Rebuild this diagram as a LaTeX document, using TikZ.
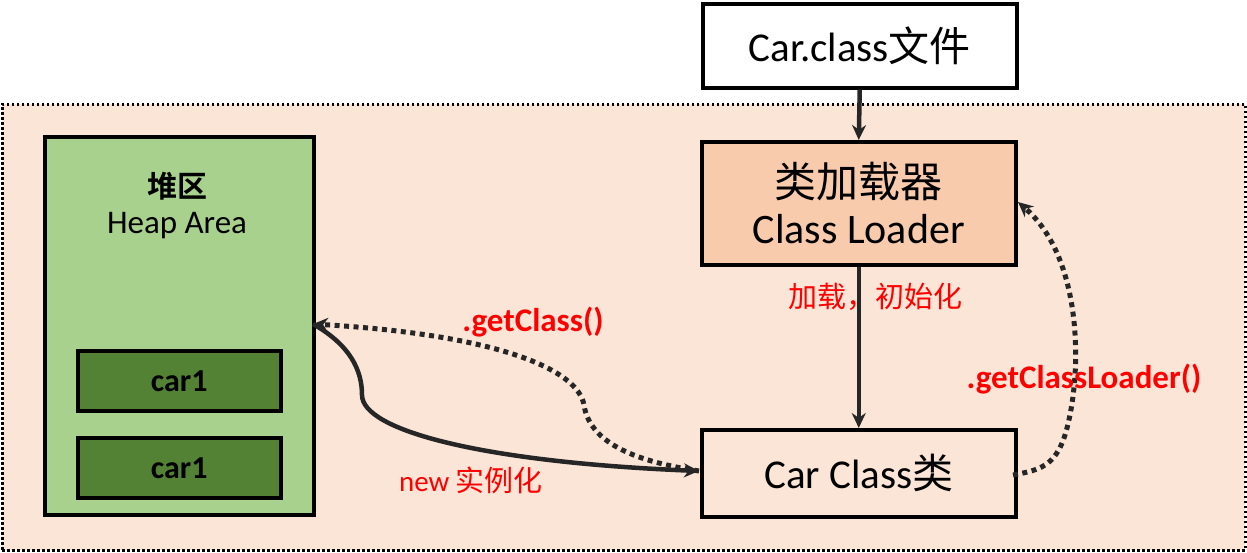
\documentclass[tikz,border=0pt]{standalone}
\usepackage{fontspec}
\setmainfont{Carlito}
\newfontfamily\cjk{Noto Sans CJK SC}
\newfontfamily\cjkbold{Noto Sans CJK SC Bold}
\usetikzlibrary{arrows.meta}
\definecolor{outerfill}{HTML}{FBE5D6}
\definecolor{loaderfill}{HTML}{F8CBAD}
\definecolor{heapfill}{HTML}{A9D18E}
\definecolor{carfill}{HTML}{548235}
\definecolor{arrowgray}{HTML}{262626}
\definecolor{lblred}{HTML}{FF0000}
\tikzset{
  boxstyle/.style={draw=black, line width=3.5pt, inner sep=0pt, anchor=north west},
  conn/.style={draw=arrowgray, line width=4.5pt, -{Stealth[length=15pt,width=14pt]}},
  dotconn/.style={draw=arrowgray, line width=5pt, dash pattern=on 5pt off 4.5pt, -{Stealth[length=15pt,width=14pt]}},
  redlbl/.style={text=lblred, inner sep=0pt},
}
\begin{document}
\begin{tikzpicture}[x=1pt,y=-1pt]
\useasboundingbox (0,0) rectangle (1247,552);
% outer region
\node[draw=black, line width=2.5pt, dash pattern=on 2.5pt off 2.5pt, fill=outerfill, minimum width=1243pt, minimum height=446pt, anchor=north west, inner sep=0pt] (outer) at (1,103) {};
% top file box
\node[boxstyle, fill=white, minimum width=314pt, minimum height=84pt] (file) at (701,2) {};
\node at (file.center) {\fontsize{41}{44}\selectfont Car.class{\cjk 文件}};
% class loader
\node[boxstyle, fill=loaderfill, minimum width=314pt, minimum height=123pt] (loader) at (700,140) {};
\node at ([yshift=22pt]loader.center) {\fontsize{42}{44}\selectfont\cjk 类加载器};
\node at ([yshift=-26pt]loader.center) {\fontsize{42}{44}\selectfont Class Loader};
% car class
\node[boxstyle, minimum width=314pt, minimum height=87pt] (ccls) at (700,428) {};
\node at (ccls.center) {\fontsize{41}{44}\selectfont Car Class{\cjk 类}};
% heap
\node[boxstyle, fill=heapfill, minimum width=269pt, minimum height=378pt] (heap) at (43,135) {};
\node (heapzh) at (177,186) {\fontsize{30}{32}\selectfont\cjkbold 堆区};
\node (heapen) at (177,226) {\fontsize{33}{36}\selectfont Heap Area};
\node[boxstyle, fill=carfill, minimum width=203pt, minimum height=60pt] (car1a) at (76,349) {};
\node at (car1a.center) {\fontsize{32}{34}\selectfont\bfseries car1};
\node[boxstyle, fill=carfill, minimum width=203pt, minimum height=60pt] (car1b) at (76,436) {};
\node at (car1b.center) {\fontsize{32}{34}\selectfont\bfseries car1};
% straight arrows
\draw[conn] (file.south) -- (loader.north);
\draw[conn] (loader.south) -- (ccls.north);
\node[redlbl] (lbl1) at (875,297) {\fontsize{29}{32}\selectfont\cjk 加载，初始化};
% coordinates
\coordinate (heapin) at (313,324);
\coordinate (cclsin) at (699,471);
\coordinate (ccout) at (1013,475);
\coordinate (loaderin) at (1018,202);
% getClass dotted
\draw[dotconn] (cclsin) .. controls (640,462) and (590,445) .. (584,405)
  .. controls (578,370) and (500,335) .. (heapin);
% new instance solid
\draw[conn] (heapin) .. controls (350,345) and (362,370) .. (362,395)
  .. controls (362,430) and (480,462) .. (cclsin);
% getClassLoader dotted
\draw[dotconn] (ccout) .. controls (1040,470) and (1055,466) .. (1065,435)
  .. controls (1082,380) and (1085,260) .. (loaderin);
% labels
\node[redlbl] (lgc) at (533,322) {\fontsize{33}{36}\selectfont\bfseries .getClass()};
\node[redlbl] (lgcl) at (1084,379) {\fontsize{33}{36}\selectfont\bfseries .getClassLoader()};
\node[redlbl] (lnew) at (471,480) {\fontsize{29}{32}\selectfont new {\cjk 实例化}};
\end{tikzpicture}
\end{document}
